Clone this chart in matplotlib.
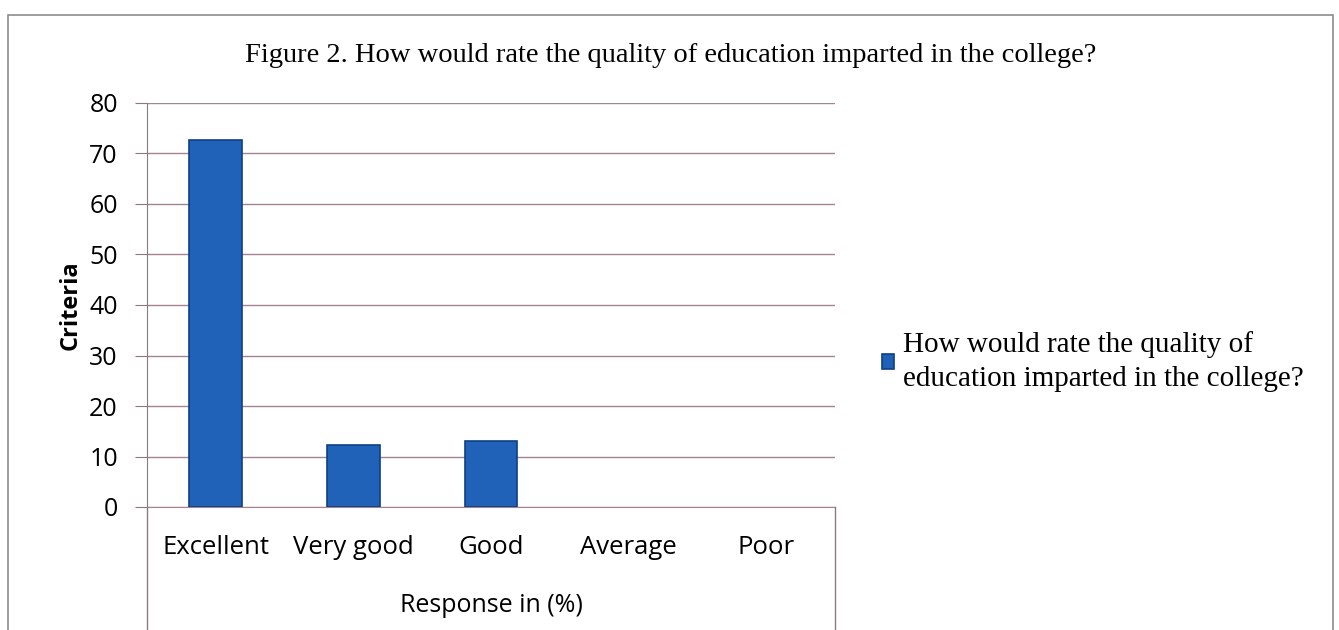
import matplotlib.pyplot as plt
from matplotlib.lines import Line2D
from matplotlib.patches import Rectangle

categories = ['Excellent', 'Very good', 'Good', 'Average', 'Poor']
values = [72.7, 12.2, 13.0, 0, 0]
y_ticks = [0, 10, 20, 30, 40, 50, 60, 70, 80]
title = 'Figure 2. How would rate the quality of education imparted in the college?'
legend_label = 'How would rate the quality of\neducation imparted in the college?'

W, H = 1339, 630
fig = plt.figure(figsize=(W / 100, H / 100), dpi=100)

grid_col = '#a6848c'
axis_col = '#8a7a80'

# plot area in pixels
x0, x1 = 147, 835
y_top, y_zero = 103, 507
ax = fig.add_axes([x0 / W, 1 - y_zero / H, (x1 - x0) / W, (y_zero - y_top) / H])

xs = range(len(categories))
bars = ax.bar(xs, values, width=0.385, color='#1f62b8', edgecolor='#0f3f86', linewidth=1.2,
              zorder=3, label=legend_label)
for b, v in zip(bars, values):
    if v == 0:
        b.set_visible(False)
ax.set_xlim(-0.5, len(categories) - 0.5)
ax.set_ylim(0, 80)
ax.set_yticks(y_ticks)
ax.yaxis.grid(True, color=grid_col, linewidth=1.0)
ax.set_axisbelow(True)
for s in ['top', 'right']:
    ax.spines[s].set_visible(False)
ax.spines['bottom'].set_color(grid_col)
ax.spines['left'].set_color(axis_col)
ax.tick_params(axis='y', length=9, color=axis_col, labelsize=18, pad=12)
ax.tick_params(axis='x', length=0, labelsize=18.5, pad=20)
ax.set_xticks(list(xs))
ax.set_xticklabels(categories, fontfamily='Open Sans')
for lab in ax.get_yticklabels():
    lab.set_fontfamily('Open Sans')

ax.set_ylabel('Criteria', fontfamily='Open Sans', fontweight='bold', fontsize=17, labelpad=5)
ax.set_xlabel('Response in (%)', fontfamily='Open Sans', fontsize=18, labelpad=24)

# frame below the axis
fig.add_artist(Line2D([x0 / W, x0 / W], [0, 1 - y_zero / H], color=axis_col, lw=1))
fig.add_artist(Line2D([x1 / W, x1 / W], [0, 1 - y_zero / H], color=axis_col, lw=1))

# outer chart border
fig.add_artist(Rectangle((8 / W, -0.05), (1333 - 8) / W, 1.05 - 15 / H, fill=False,
                         edgecolor='#8c8c8c', lw=1.2, transform=fig.transFigure))

fig.text(671 / W, 1 - 55 / H, title, ha='center', va='center',
         fontfamily='Liberation Serif', fontsize=20.5)

leg = fig.legend(loc='center left', bbox_to_anchor=(856 / W, 1 - 362 / H), frameon=False,
                 prop={'family': 'Liberation Serif', 'size': 21}, handlelength=0.4,
                 handleheight=0.4, handletextpad=0.3)
for t in leg.get_texts():
    t.set_linespacing(1.4)

fig.savefig('out.png', dpi=100)
